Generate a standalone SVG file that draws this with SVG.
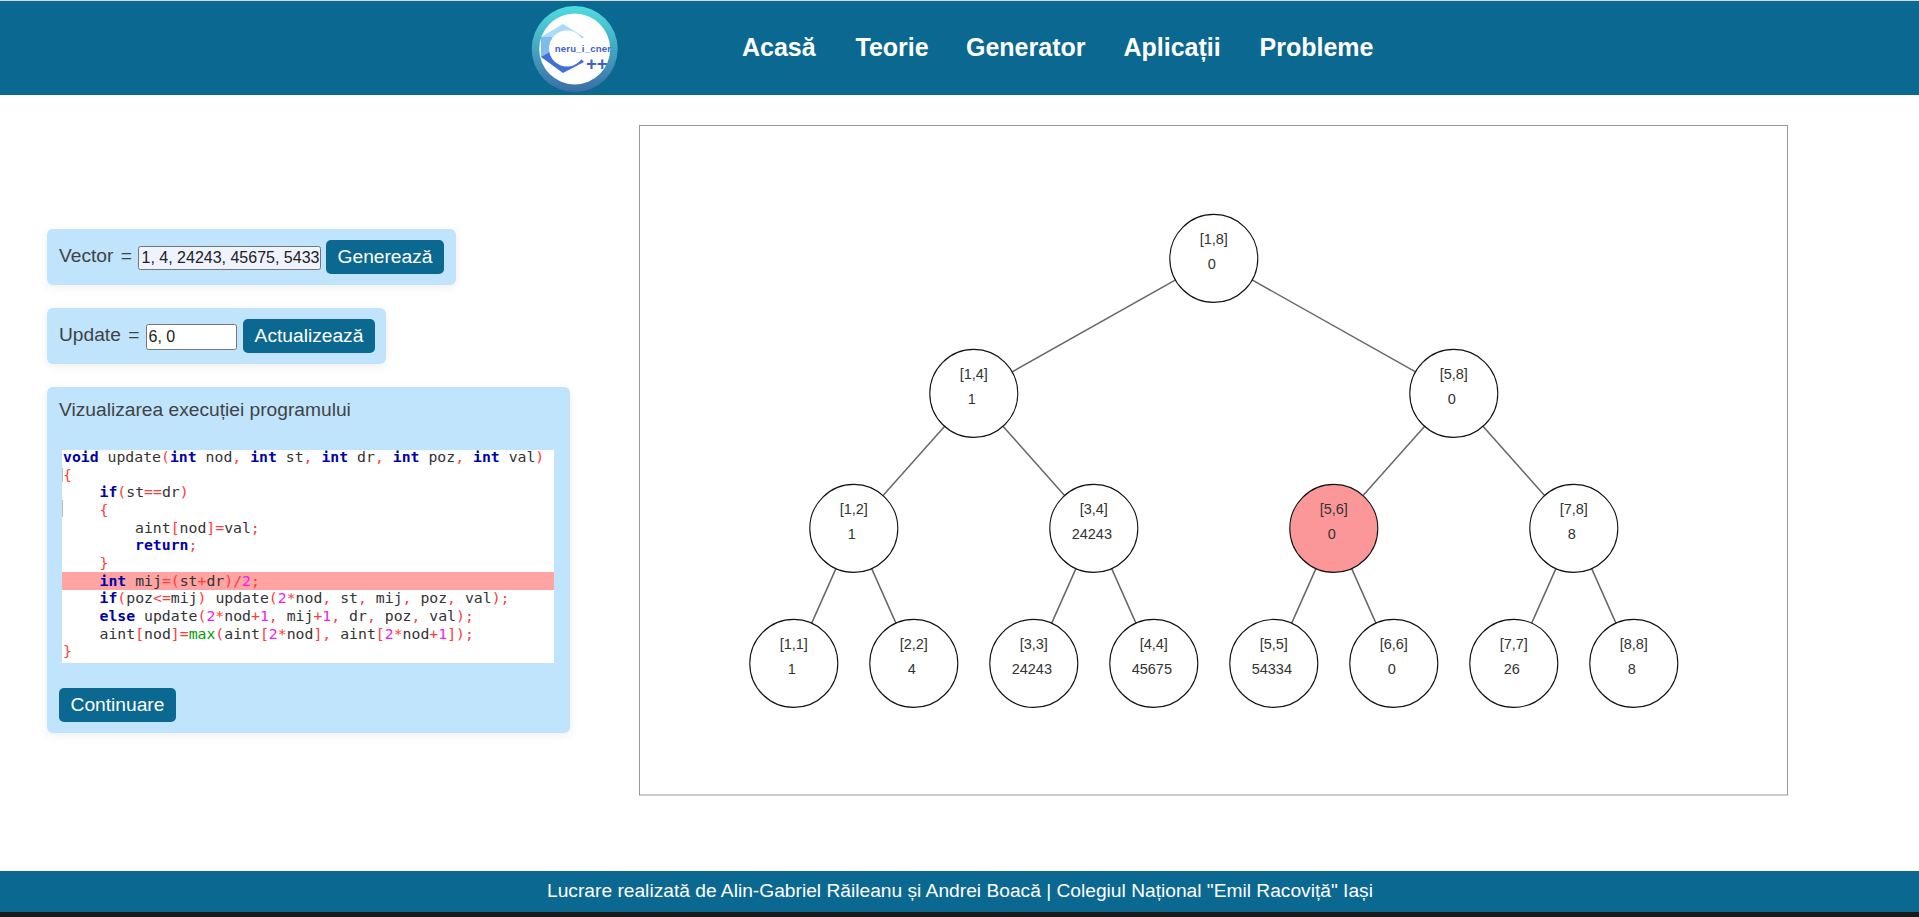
<svg xmlns="http://www.w3.org/2000/svg" width="1919" height="917" viewBox="0 0 1919 917">
<style>
text{font-family:"Liberation Sans",Arial,sans-serif}
.bar{fill:#0b6890}
.nav{font-size:25px;font-weight:700;fill:#fff}
.panel{fill:#c0e4fb;filter:url(#sh)}
.lab{font-size:19.2px;fill:#3f4347}
.btn{fill:#0b6890}
.bt{font-size:19.2px;fill:#fff;text-anchor:middle}
.inp{stroke:#767676;stroke-width:1}
.it{font-size:16px;fill:#222}
.edge{stroke:#666;stroke-width:1.5;fill:none}
.node{fill:#fff;stroke:#111;stroke-width:1.1}
.hot{fill:#fb9799}
.nt{font-size:14.5px;fill:#333;text-anchor:middle}
.code{font-family:"DejaVu Sans Mono","Liberation Mono",monospace;font-size:14.8px;fill:#333;white-space:pre}
.k{fill:#0000a8;font-weight:700}
.p{fill:#ff3b3b}
.n{fill:#f01cf0}
.f{fill:#00a000}
</style>
<defs>
<filter id="sh" x="-5%" y="-20%" width="110%" height="140%"><feDropShadow dx="0" dy="2" stdDeviation="4" flood-color="#000" flood-opacity="0.07"/></filter>
<linearGradient id="ring" x1="0" y1="0" x2="0" y2="1"><stop offset="0" stop-color="#4fdde0"/><stop offset="1" stop-color="#3a6ea5"/></linearGradient>
<clipPath id="vc"><rect x="139" y="247" width="181" height="22"/></clipPath>
</defs>
<rect width="1919" height="917" fill="#fff"/>
<g id="header">
<rect width="1919" height="1" fill="#d8d8d8"/>
<rect class="bar" y="1" width="1919" height="94"/>
<g id="logo">
<circle cx="574.7" cy="49" r="43" fill="url(#ring)"/>
<circle cx="574.7" cy="49" r="35.5" fill="#fff"/>
<polygon points="541,37 563,24 584,37 575,44 545,44" fill="#a8dcf8"/>
<polygon points="541,37 552,37 552,57 541,57" fill="#7ebcf0"/>
<polygon points="541,57 563,73 584,62 575,52 550,52" fill="#3f6fd8"/>
<circle cx="567" cy="48.5" r="18" fill="#fff"/>
<text x="554.7" y="51.7" font-size="9.6" font-weight="700" fill="#3f62c8" style="font-size:9.6px;letter-spacing:0.2px">neru_i_cner</text>
<text x="586" y="70" font-weight="700" fill="#3f62c8" style="font-size:18.5px">++</text>
</g>
<text class="nav" x="742" y="56">Acasă</text>
<text class="nav" x="855.5" y="56">Teorie</text>
<text class="nav" x="966" y="56">Generator</text>
<text class="nav" x="1123.5" y="56">Aplicații</text>
<text class="nav" x="1259.5" y="56">Probleme</text>
</g>
<g id="vector-panel">
<rect class="panel" x="47" y="229" width="409" height="56" rx="6"/>
<text class="lab" x="59" y="262">Vector <tspan dx="2">=</tspan></text>
<rect class="inp" x="138.5" y="246.5" width="182" height="23" rx="2" fill="#eef3fe"/>
<text class="it" x="141.5" y="263" clip-path="url(#vc)">1, 4, 24243, 45675, 5433</text>
<rect class="btn" x="326" y="240" width="118" height="34" rx="5"/>
<text class="bt" x="385" y="263">Generează</text>
</g>
<g id="update-panel">
<rect class="panel" x="47" y="308" width="339" height="56" rx="6"/>
<text class="lab" x="59" y="341">Update <tspan dx="2">=</tspan></text>
<rect class="inp" x="146.5" y="324.5" width="90" height="25" rx="2" fill="#fff"/>
<text class="it" x="148.5" y="342">6, 0</text>
<rect class="btn" x="243" y="319" width="132" height="34" rx="5"/>
<text class="bt" x="309" y="342">Actualizează</text>
</g>
<g id="code-panel">
<rect class="panel" x="47" y="387" width="523" height="346" rx="6"/>
<text class="lab" x="59" y="416">Vizualizarea execuției programului</text>
<rect x="62" y="450" width="492" height="213" fill="#fff"/>
<rect x="62" y="572" width="492" height="18" fill="#ffa3a3"/>
<path d="M62.5 468V482M62.5 500V517" stroke="#bbb" stroke-width="1"/>
<text class="code" x="63" y="462"><tspan class="k">void</tspan> update<tspan class="p">(</tspan><tspan class="k">int</tspan> nod<tspan class="p">,</tspan> <tspan class="k">int</tspan> st<tspan class="p">,</tspan> <tspan class="k">int</tspan> dr<tspan class="p">,</tspan> <tspan class="k">int</tspan> poz<tspan class="p">,</tspan> <tspan class="k">int</tspan> val<tspan class="p">)</tspan></text>
<text class="code p" x="63" y="479.7">{</text>
<text class="code" x="99.5" y="497.3"><tspan class="k">if</tspan><tspan class="p">(</tspan>st<tspan class="p">==</tspan>dr<tspan class="p">)</tspan></text>
<text class="code p" x="99.5" y="515">{</text>
<text class="code" x="135" y="532.7">aint<tspan class="p">[</tspan>nod<tspan class="p">]=</tspan>val<tspan class="p">;</tspan></text>
<text class="code" x="135" y="550.3"><tspan class="k">return</tspan><tspan class="p">;</tspan></text>
<text class="code p" x="99.5" y="568">}</text>
<text class="code" x="99.5" y="585.7"><tspan class="k">int</tspan> mij<tspan class="p">=(</tspan>st<tspan class="p">+</tspan>dr<tspan class="p">)/</tspan><tspan class="n">2</tspan><tspan class="p">;</tspan></text>
<text class="code" x="99.5" y="603.3"><tspan class="k">if</tspan><tspan class="p">(</tspan>poz<tspan class="p">&lt;=</tspan>mij<tspan class="p">)</tspan> update<tspan class="p">(</tspan><tspan class="n">2</tspan><tspan class="p">*</tspan>nod<tspan class="p">,</tspan> st<tspan class="p">,</tspan> mij<tspan class="p">,</tspan> poz<tspan class="p">,</tspan> val<tspan class="p">);</tspan></text>
<text class="code" x="99.5" y="621"><tspan class="k">else</tspan> update<tspan class="p">(</tspan><tspan class="n">2</tspan><tspan class="p">*</tspan>nod<tspan class="p">+</tspan><tspan class="n">1</tspan><tspan class="p">,</tspan> mij<tspan class="p">+</tspan><tspan class="n">1</tspan><tspan class="p">,</tspan> dr<tspan class="p">,</tspan> poz<tspan class="p">,</tspan> val<tspan class="p">);</tspan></text>
<text class="code" x="99.5" y="638.7">aint<tspan class="p">[</tspan>nod<tspan class="p">]=</tspan><tspan class="f">max</tspan><tspan class="p">(</tspan>aint<tspan class="p">[</tspan><tspan class="n">2</tspan><tspan class="p">*</tspan>nod<tspan class="p">],</tspan> aint<tspan class="p">[</tspan><tspan class="n">2</tspan><tspan class="p">*</tspan>nod<tspan class="p">+</tspan><tspan class="n">1</tspan><tspan class="p">]);</tspan></text>
<text class="code p" x="63" y="656.3">}</text>
<rect class="btn" x="59" y="688" width="117" height="34" rx="5"/>
<text class="bt" x="117.5" y="710.7">Continuare</text>
</g>
<rect id="canvas" x="639.5" y="125.5" width="1148" height="669.5" fill="#fff" stroke="#999" stroke-width="1"/>
<g id="connectors">
<line class="edge" x1="1213.8" y1="258.4" x2="973.8" y2="393.4"/>
<line class="edge" x1="1213.8" y1="258.4" x2="1453.8" y2="393.4"/>
<line class="edge" x1="973.8" y1="393.4" x2="853.8" y2="528.4"/>
<line class="edge" x1="973.8" y1="393.4" x2="1093.8" y2="528.4"/>
<line class="edge" x1="1453.8" y1="393.4" x2="1333.8" y2="528.4"/>
<line class="edge" x1="1453.8" y1="393.4" x2="1573.8" y2="528.4"/>
<line class="edge" x1="853.8" y1="528.4" x2="793.8" y2="663.4"/>
<line class="edge" x1="853.8" y1="528.4" x2="913.8" y2="663.4"/>
<line class="edge" x1="1093.8" y1="528.4" x2="1033.8" y2="663.4"/>
<line class="edge" x1="1093.8" y1="528.4" x2="1153.8" y2="663.4"/>
<line class="edge" x1="1333.8" y1="528.4" x2="1273.8" y2="663.4"/>
<line class="edge" x1="1333.8" y1="528.4" x2="1393.8" y2="663.4"/>
<line class="edge" x1="1573.8" y1="528.4" x2="1513.8" y2="663.4"/>
<line class="edge" x1="1573.8" y1="528.4" x2="1633.8" y2="663.4"/>
</g>
<g id="n1-8"><circle class="node" cx="1213.8" cy="258.4" r="44"/><text class="nt" x="1213.8" y="244.4">[1,8]</text><text class="nt" x="1211.8" y="269.4">0</text></g>
<g id="n1-4"><circle class="node" cx="973.8" cy="393.4" r="44"/><text class="nt" x="973.8" y="379.4">[1,4]</text><text class="nt" x="971.8" y="404.4">1</text></g>
<g id="n5-8"><circle class="node" cx="1453.8" cy="393.4" r="44"/><text class="nt" x="1453.8" y="379.4">[5,8]</text><text class="nt" x="1451.8" y="404.4">0</text></g>
<g id="n1-2"><circle class="node" cx="853.8" cy="528.4" r="44"/><text class="nt" x="853.8" y="514.4">[1,2]</text><text class="nt" x="851.8" y="539.4">1</text></g>
<g id="n3-4"><circle class="node" cx="1093.8" cy="528.4" r="44"/><text class="nt" x="1093.8" y="514.4">[3,4]</text><text class="nt" x="1091.8" y="539.4">24243</text></g>
<g id="n5-6"><circle class="node hot" cx="1333.8" cy="528.4" r="44"/><text class="nt" x="1333.8" y="514.4">[5,6]</text><text class="nt" x="1331.8" y="539.4">0</text></g>
<g id="n7-8"><circle class="node" cx="1573.8" cy="528.4" r="44"/><text class="nt" x="1573.8" y="514.4">[7,8]</text><text class="nt" x="1571.8" y="539.4">8</text></g>
<g id="n1-1"><circle class="node" cx="793.8" cy="663.4" r="44"/><text class="nt" x="793.8" y="649.4">[1,1]</text><text class="nt" x="791.8" y="674.4">1</text></g>
<g id="n2-2"><circle class="node" cx="913.8" cy="663.4" r="44"/><text class="nt" x="913.8" y="649.4">[2,2]</text><text class="nt" x="911.8" y="674.4">4</text></g>
<g id="n3-3"><circle class="node" cx="1033.8" cy="663.4" r="44"/><text class="nt" x="1033.8" y="649.4">[3,3]</text><text class="nt" x="1031.8" y="674.4">24243</text></g>
<g id="n4-4"><circle class="node" cx="1153.8" cy="663.4" r="44"/><text class="nt" x="1153.8" y="649.4">[4,4]</text><text class="nt" x="1151.8" y="674.4">45675</text></g>
<g id="n5-5"><circle class="node" cx="1273.8" cy="663.4" r="44"/><text class="nt" x="1273.8" y="649.4">[5,5]</text><text class="nt" x="1271.8" y="674.4">54334</text></g>
<g id="n6-6"><circle class="node" cx="1393.8" cy="663.4" r="44"/><text class="nt" x="1393.8" y="649.4">[6,6]</text><text class="nt" x="1391.8" y="674.4">0</text></g>
<g id="n7-7"><circle class="node" cx="1513.8" cy="663.4" r="44"/><text class="nt" x="1513.8" y="649.4">[7,7]</text><text class="nt" x="1511.8" y="674.4">26</text></g>
<g id="n8-8"><circle class="node" cx="1633.8" cy="663.4" r="44"/><text class="nt" x="1633.8" y="649.4">[8,8]</text><text class="nt" x="1631.8" y="674.4">8</text></g>
<g id="footer">
<rect class="bar" y="871" width="1919" height="41"/>
<rect y="912" width="1919" height="5" fill="#1a1a1a"/>
<text x="547" y="896.7" fill="#fff" style="font-size:19.2px">Lucrare realizată de Alin-Gabriel Răileanu și Andrei Boacă | Colegiul Național "Emil Racoviță" Iași</text>
</g>
</svg>
